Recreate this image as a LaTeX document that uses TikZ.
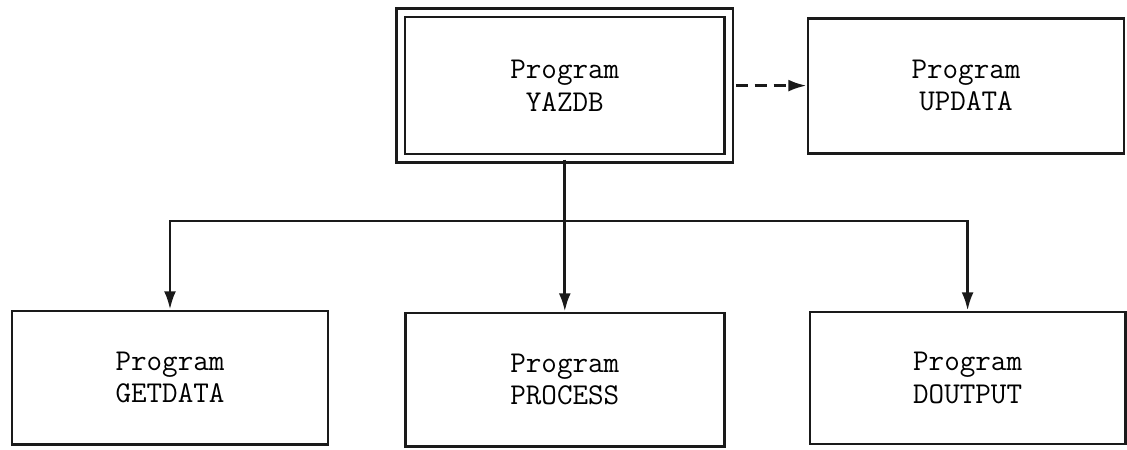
\documentclass[tikz,border=0pt]{standalone}
\usepackage{tikz}
\usetikzlibrary{
  positioning,
  arrows.meta,
  calc,
}
\definecolor{border}{HTML}{1A1A1A}
\definecolor{arrowCol}{HTML}{1A1A1A}
\tikzset{
  progbox/.style={
    rectangle, draw=border, fill=white,
    minimum width=7.9cm, minimum height=3.33cm, align=center,
    font=\fontsize{21.5pt}{23pt}\selectfont\ttfamily, inner sep=4pt, line width=2pt,
  },
  mainbox/.style={
    progbox, double, double distance=4.2pt, line width=1.9pt,
  },
  arrow/.style={-{Latex[length=13pt,width=8.5pt]}, arrowCol, line width=2pt},
  darrow/.style={arrow, dash pattern=on 8.5pt off 5pt},
}
\begin{document}
\begin{tikzpicture}
  \useasboundingbox (0,0) rectangle (28.175,-11.225);

  % Main program
  \node[mainbox, minimum width=8.2cm, minimum height=3.64cm] (yazdb) at (14.12,-2.14) {Program\\YAZDB};
  \node[progbox, minimum height=3.375cm] (updata) at (24.15,-2.14) {Program\\UPDATA};

  % Sub programs
  \node[progbox] (getdata) at (4.25,-9.44) {Program\\GETDATA};
  \node[progbox, minimum width=7.98cm] (process) at (14.12,-9.49) {Program\\PROCESS};
  \node[progbox, minimum width=7.88cm, minimum height=3.3cm] (doutput) at (24.19,-9.45) {Program\\DOUTPUT};

  \coordinate (bus) at (14.12,-5.525);

  \draw[arrow] (yazdb.south) -- (process.north);
  \draw[arrow] (bus) -| (getdata.north);
  \draw[arrow] (bus) -| (doutput.north);
  \draw[darrow, shorten <=4pt] (yazdb.east) -- (updata.west);

\end{tikzpicture}
\end{document}
